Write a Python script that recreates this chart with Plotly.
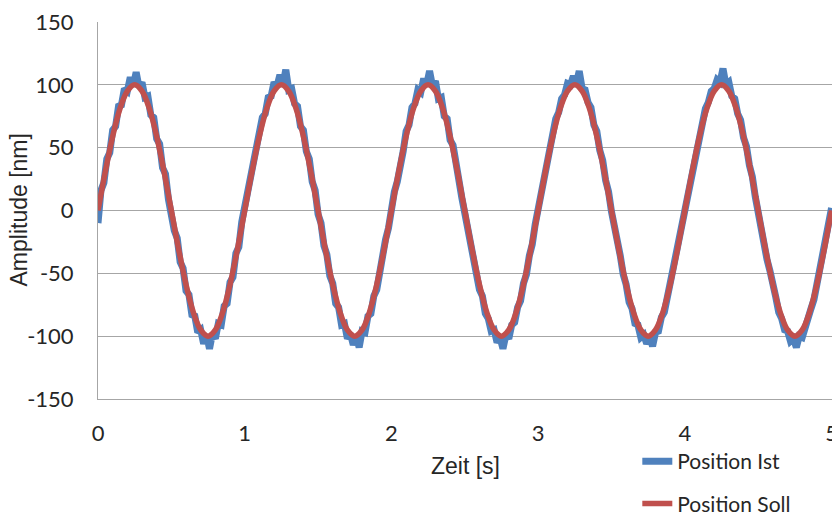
import plotly.graph_objects as go

# Time axis (s) for measured and set-point series
t_ist = [round(i * 0.02, 2) for i in range(251)]
t_soll = [round(i * 0.05, 2) for i in range(101)]

pos_ist = [
    -10, 16, 22, 41, 46, 64, 67, 83, 84, 97, 95, 106, 99, 110, 98, 102, 90, 91, 76, 74, 57, 53, 34, 29, 9,
    -4, -16, -22, -41, -46, -64, -67, -83, -84, -97, -95, -106, -99, -110, -98, -102, -90, -91, -76, -74, -57, -53, -34, -29, -9,
    3, 10, 29, 35, 53, 58, 74, 77, 90, 91, 102, 99, 108, 100, 112, 96, 97, 85, 83, 67, 64, 47, 41, 23, 16,
    -3, -10, -28, -35, -52, -58, -74, -77, -91, -90, -102, -98, -107, -100, -109, -96, -97, -84, -82, -68, -63, -47, -40, -23, -14,
    2, 15, 23, 40, 47, 63, 68, 82, 85, 96, 94, 105, 100, 111, 99, 103, 89, 90, 75, 73, 56, 52, 35, 28, 10,
    -2, -15, -23, -40, -47, -63, -68, -82, -86, -96, -95, -105, -101, -110, -99, -102, -91, -89, -77, -72, -58, -51, -36, -27, -11,
    1, 11, 28, 36, 52, 59, 73, 78, 89, 92, 101, 100, 107, 101, 111, 97, 96, 86, 82, 68, 63, 48, 40, 24, 15,
    -1, -11, -27, -36, -51, -59, -73, -78, -90, -91, -101, -99, -106, -101, -108, -97, -96, -85, -81, -69, -62, -48, -39, -24, -13,
    3, 14, 24, 39, 48, 62, 69, 81, 86, 95, 97, 104, 102, 113, 100, 102, 91, 89, 77, 72, 58, 51, 36, 27, 11,
    -3, -14, -24, -39, -48, -62, -69, -81, -86, -95, -96, -104, -102, -109, -100, -101, -92, -88, -78, -71, -59, -50, -37, -26, -12,
    2,
]

# Set-point position (nm)
pos_soll = [
    0, 31, 59, 81, 95, 100, 95, 81, 59, 31, 0, -31, -59, -81, -95, -100, -95, -81, -59, -31,
    0, 31, 59, 81, 95, 100, 95, 81, 59, 31, 0, -31, -59, -81, -95, -100, -95, -81, -59, -31,
    0, 31, 59, 81, 95, 100, 95, 81, 59, 31, 0, -31, -59, -81, -95, -100, -95, -81, -59, -31,
    0, 31, 59, 81, 95, 100, 95, 81, 59, 31, 0, -31, -59, -81, -95, -100, -95, -81, -59, -31,
    0, 31, 59, 81, 95, 100, 95, 81, 59, 31, 0, -31, -59, -81, -95, -100, -95, -81, -59, -31,
    0,
]

y_ticks = [-150, -100, -50, 0, 50, 100, 150]
y_labels = ["-150", "-100", "-50", "0", "50", "100", "150"]
x_ticks = [0, 1, 2, 3, 4, 5]
x_labels = ["0", "1", "2", "3", "4", "5"]

FONT = "Lato"
TITLE_FONT = "Liberation Sans"
TXT = "#262626"
GRID = "#a6a6a6"

fig = go.Figure()
fig.add_trace(go.Scatter(
    x=t_ist, y=pos_ist, mode="lines", name="Position Ist",
    line=dict(color="#4f81bd", width=7), legendgroup="a",
))
fig.add_trace(go.Scatter(
    x=t_soll, y=pos_soll, mode="lines", name="Position Soll",
    line=dict(color="#c0504d", width=5.5, shape="spline"), legendgroup="b",
))

fig.update_layout(
    width=832, height=516,
    margin=dict(l=98, r=0, t=22, b=117, autoexpand=False),
    paper_bgcolor="white", plot_bgcolor="white",
    font=dict(family=FONT, size=21, color=TXT),
    showlegend=True,
    legend=dict(
        xref="container", yref="container",
        x=0.766, y=0.1453, xanchor="left", yanchor="top",
        font=dict(family=FONT, size=21, color=TXT),
        tracegroupgap=12, bgcolor="rgba(0,0,0,0)",
    ),
    xaxis=dict(
        range=[0, 5.003], tickvals=x_ticks, ticktext=x_labels, showgrid=False,
        zeroline=False, automargin=False, ticklabeloverflow="allow",
        showline=True, linecolor=GRID, linewidth=1, ticks="",
        ticklabelstandoff=15, tickfont=dict(family=FONT, size=22, color=TXT),
    ),
    yaxis=dict(
        range=[-150, 150], tickvals=y_ticks, ticktext=y_labels, showgrid=True,
        gridcolor=GRID, automargin=False,
        gridwidth=1, zeroline=False, showline=True, linecolor=GRID, linewidth=1,
        ticks="", ticklabelstandoff=19, tickfont=dict(family=FONT, size=22, color=TXT),
    ),
    annotations=[
        dict(text="Zeit [s]", xref="paper", yref="paper", x=0.5, y=0,
             xanchor="center", yanchor="middle", yshift=-67, showarrow=False,
             font=dict(family=TITLE_FONT, size=23, color=TXT)),
        dict(text="Amplitude [nm]", xref="paper", yref="paper", x=0, y=0.5,
             xanchor="center", yanchor="middle", xshift=-80, textangle=-90,
             showarrow=False, font=dict(family=TITLE_FONT, size=23, color=TXT)),
    ],
)

fig.write_html(
    "out.html",
    config={"displayModeBar": False},
    post_script="document.body.style.margin='0px';document.body.style.overflow='hidden';",
)
